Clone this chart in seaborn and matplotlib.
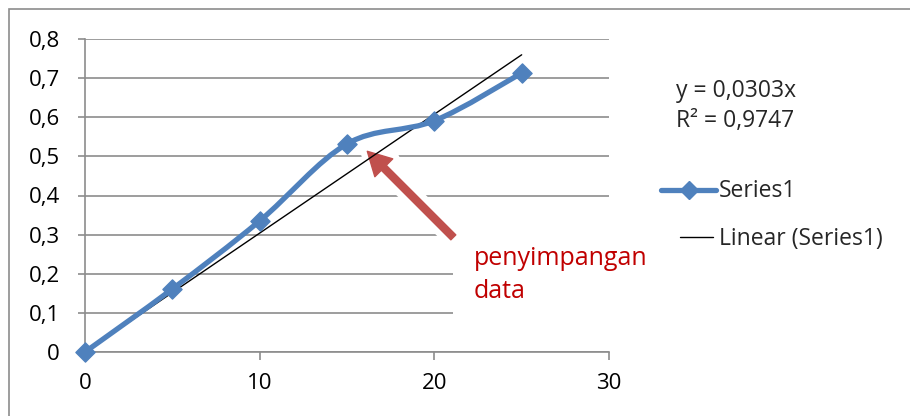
import numpy as np
import pandas as pd
import matplotlib
matplotlib.use("Agg")
import matplotlib.pyplot as plt
import seaborn as sns
from matplotlib.path import Path
from matplotlib.patches import PathPatch, Rectangle, FancyArrowPatch
from matplotlib.lines import Line2D
import matplotlib.patheffects as pe

# ---- data ----
x_values = [0, 5, 10, 15, 20, 25]
y_values = [0.0, 0.161, 0.335, 0.532, 0.591, 0.713]
x_ticks = [0, 10, 20, 30]
y_ticks = [0, 0.1, 0.2, 0.3, 0.4, 0.5, 0.6, 0.7, 0.8]
y_tick_labels = ["0", "0,1", "0,2", "0,3", "0,4", "0,5", "0,6", "0,7", "0,8"]
x_tick_labels = ["0", "10", "20", "30"]
equation_text = "y = 0,0303x"
r2_text = "R² = 0,9747"
series_name = "Series1"
trend_name = "Linear (Series1)"
annotation_lines = ["penyimpangan", "data"]

df = pd.DataFrame({"x": x_values, "y": y_values})

sns.set_style("white")
plt.rcParams['font.family'] = ['Open Sans', 'DejaVu Sans']
FS = 16
FS_LEG = 16.5
FS_RED = 18

W, H = 910, 416
fig = plt.figure(figsize=(W / 100, H / 100), dpi=100)
ax = fig.add_axes([85 / W, 1 - 352 / H, (609 - 85) / W, (352 - 39) / H])

blue = "#4F81BD"
gray = "#8C8C8C"

ax.set_xlim(0, 30)
ax.set_ylim(0, 0.8)
ax.set_xticks(x_ticks)
ax.set_xticklabels(x_tick_labels)
ax.set_yticks(y_ticks)
ax.set_yticklabels(y_tick_labels)
ax.tick_params(axis="both", labelsize=FS, colors=gray, labelcolor="black", width=1.2)
ax.tick_params(axis="y", length=5, pad=13, direction="out", left=True)
ax.tick_params(axis="x", length=6, pad=9, direction="out", bottom=True)
for s in ["top", "right"]:
    ax.spines[s].set_visible(False)
for s in ["left", "bottom"]:
    ax.spines[s].set_color(gray)
    ax.spines[s].set_linewidth(1.2)
ax.yaxis.grid(True, color=gray, linewidth=1.2)
ax.xaxis.grid(False)
ax.set_axisbelow(True)

# trendline through origin
xa = np.array(x_values, dtype=float)
ya = np.array(y_values, dtype=float)
slope = (xa * ya).sum() / (xa * xa).sum()
tx = np.array([x_values[0], x_values[-1]], dtype=float)
ax.plot(tx, slope * tx, color="black", linewidth=1.0, zorder=4)

# smoothed series line (Catmull-Rom style bezier through the data points)
pts = np.column_stack([xa, ya])
verts = [tuple(pts[0])]
codes = [Path.MOVETO]
n = len(pts)
for i in range(n - 1):
    p0 = pts[i - 1] if i > 0 else pts[i]
    p1 = pts[i]
    p2 = pts[i + 1]
    p3 = pts[i + 2] if i + 2 < n else pts[i + 1]
    c1 = p1 + (p2 - p0) / 6.0
    c2 = p2 - (p3 - p1) / 6.0
    verts += [tuple(c1), tuple(c2), tuple(p2)]
    codes += [Path.CURVE4] * 3
ax.add_patch(PathPatch(Path(verts, codes), facecolor="none", edgecolor=blue,
                       linewidth=3.8, capstyle="round", joinstyle="round", zorder=5))

sns.scatterplot(data=df, x="x", y="y", marker="D", s=95, color=blue,
                edgecolor=blue, linewidth=1, ax=ax, zorder=6, clip_on=False, legend=False)
ax.set_xlabel("")
ax.set_ylabel("")

# white box behind annotation text
ax.add_patch(Rectangle((21.07, 0.056), 9.5, 0.27, facecolor="white", edgecolor="none",
                       zorder=2, clip_on=False))

# arrow with white glow
arr = FancyArrowPatch((21.2, 0.288), (16.05, 0.518),
                      arrowstyle="simple,head_length=1.2,head_width=1.3,tail_width=0.36",
                      mutation_scale=14, color="#C0504D", zorder=3,
                      path_effects=[pe.withStroke(linewidth=10, foreground="white")])
ax.add_patch(arr)

fig.text(474 / W, 1 - 265 / H, annotation_lines[0], color="#C00000", fontsize=FS_RED, va="baseline")
fig.text(474 / W, 1 - 298 / H, annotation_lines[1], color="#C00000", fontsize=FS_RED, va="baseline")

# equation text
fig.text(676 / W, 1 - 97 / H, equation_text, fontsize=FS_LEG, va="baseline")
fig.text(676 / W, 1 - 127 / H, r2_text, fontsize=FS_LEG, va="baseline")

# legend (manual)
fig.add_artist(Line2D([661 / W, 716 / W], [1 - 190 / H, 1 - 190 / H], color=blue, linewidth=3.8,
                      solid_capstyle="round", transform=fig.transFigure))
fig.add_artist(Line2D([688.5 / W], [1 - 190 / H], marker="D", markersize=9, color=blue,
                      linestyle="none", transform=fig.transFigure))
fig.text(719 / W, 1 - 197 / H, series_name, fontsize=FS_LEG, va="baseline")
fig.add_artist(Line2D([680 / W, 713 / W], [1 - 237 / H, 1 - 237 / H], color="black", linewidth=1.0,
                      transform=fig.transFigure))
fig.text(719 / W, 1 - 245 / H, trend_name, fontsize=FS_LEG, va="baseline")

# outer chart frame
fig.add_artist(Rectangle((9 / W, -0.2), 2.0, 1.2 - 9 / H, transform=fig.transFigure,
                         facecolor="none", edgecolor=gray, linewidth=1.2))

fig.savefig("out.png", dpi=100)
